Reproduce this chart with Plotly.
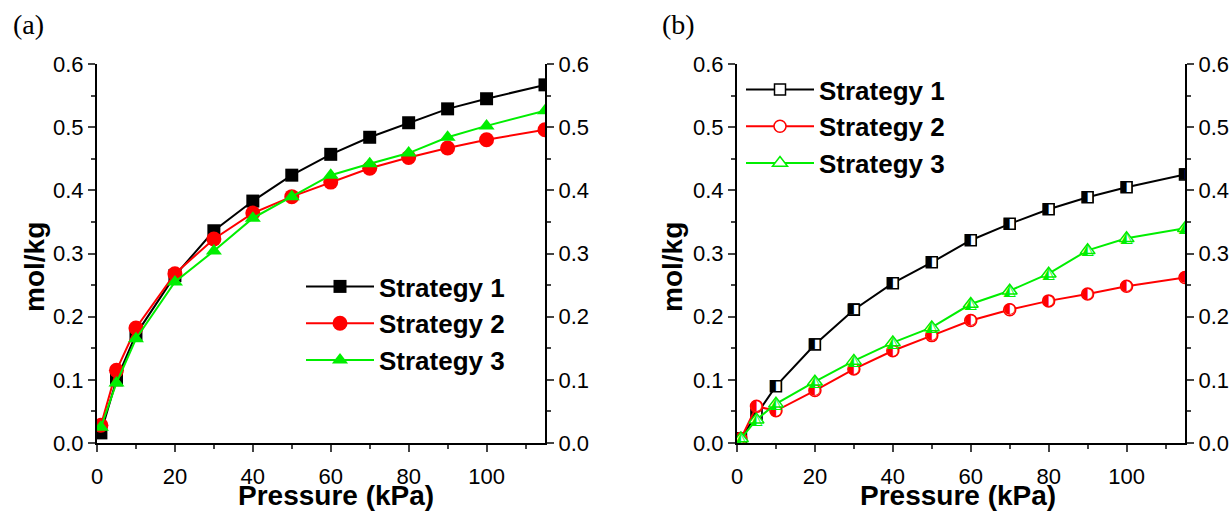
import plotly.graph_objects as go

# ---------------- data ----------------
pressure = [1, 5, 10, 20, 30, 40, 50, 60, 70, 80, 90, 100, 115]

a_s1 = [0.016, 0.100, 0.172, 0.265, 0.336, 0.383, 0.424, 0.457, 0.484, 0.507, 0.529, 0.545, 0.567]
a_s2 = [0.028, 0.115, 0.182, 0.268, 0.323, 0.364, 0.390, 0.413, 0.435, 0.452, 0.467, 0.480, 0.496]
a_s3 = [0.025, 0.095, 0.165, 0.255, 0.304, 0.356, 0.390, 0.424, 0.442, 0.459, 0.484, 0.502, 0.526]

b_s1 = [0.007, 0.045, 0.090, 0.156, 0.211, 0.253, 0.286, 0.321, 0.347, 0.370, 0.389, 0.405, 0.425]
b_s2 = [0.007, 0.058, 0.051, 0.083, 0.117, 0.146, 0.170, 0.194, 0.211, 0.225, 0.236, 0.248, 0.262]
b_s3 = [0.007, 0.037, 0.062, 0.097, 0.130, 0.159, 0.183, 0.220, 0.241, 0.268, 0.305, 0.324, 0.340]

names = ["Strategy 1", "Strategy 2", "Strategy 3"]
colors = ["#000000", "#ff0000", "#00ee00"]
x_ticks = [0, 20, 40, 60, 80, 100]
y_ticks = [0.0, 0.1, 0.2, 0.3, 0.4, 0.5, 0.6]

SANS = "Liberation Sans, Arial, sans-serif"
fig = go.Figure()

# ---------------- panel (a) ----------------
a_symbols = ["square", "circle", "triangle-up"]
a_sizes = [13, 15, 14]
for name, vals, c, sym, sz in zip(names, [a_s1, a_s2, a_s3], colors, a_symbols, a_sizes):
    fig.add_trace(go.Scatter(
        x=pressure, y=vals, mode="lines+markers", name=name,
        line=dict(color=c, width=2),
        marker=dict(symbol=sym, size=sz, color=c, line=dict(width=0)),
        xaxis="x", yaxis="y", legend="legend", legendgroup="a" + name))

# ---------------- panel (b) ----------------
b_symbols = ["square", "circle", "triangle-up"]
b_glyphs = ["\u25E7", "\u25D0", "\u25ED"]
b_sizes = [11, 12, 13]
b_glyph_sizes = [15, 15, 16]
for name, vals, c, sym, sz, g, gs in zip(names, [b_s1, b_s2, b_s3], colors,
                                         b_symbols, b_sizes, b_glyphs, b_glyph_sizes):
    fig.add_trace(go.Scatter(
        x=pressure, y=vals, mode="lines+markers", name=name,
        line=dict(color=c, width=2),
        marker=dict(symbol=sym, size=sz, color="white", line=dict(width=1.5, color=c)),
        xaxis="x2", yaxis="y2", legend="legend2", legendgroup="b" + name))
    fig.add_trace(go.Scatter(
        x=pressure, y=vals, mode="text", text=[g] * len(vals),
        textposition="middle center",
        textfont=dict(family="DejaVu Sans", size=gs, color=c),
        showlegend=False, hoverinfo="skip", xaxis="x2", yaxis="y2"))

# ---------------- axes ----------------
tickfont = dict(family=SANS, size=22, color="black")


def xax(domain, anchor):
    return dict(domain=domain, anchor=anchor, range=[0, 115], automargin=False,
                tickvals=x_ticks, ticks="outside", ticklen=7, tickwidth=2,
                ticklabelstandoff=6,
                showline=True, linewidth=2, linecolor="black",
                showgrid=False, zeroline=False, tickfont=tickfont,
                minor=dict(dtick=10, tick0=0, ticks="outside", ticklen=4, tickwidth=2,
                           showgrid=False))


def yax(anchor, side="left", overlaying=None):
    d = dict(anchor=anchor, range=[0, 0.6], side=side, automargin=False,
             tickvals=y_ticks, tickformat=".1f", ticks="outside", ticklen=7, tickwidth=2,
             showline=True, linewidth=2, linecolor="black",
             showgrid=False, zeroline=False, tickfont=tickfont,
             minor=dict(dtick=0.05, tick0=0, ticks="outside", ticklen=4, tickwidth=2,
                        showgrid=False))
    if overlaying:
        d["overlaying"] = overlaying
    return d


ydom = [74 / 517, 453 / 517]
legfont = dict(family=SANS, size=26, weight="bold", color="black")
fig.update_layout(
    width=1232, height=517,
    margin=dict(l=0, r=0, t=0, b=0, autoexpand=False),
    paper_bgcolor="white", plot_bgcolor="white",
    font=dict(family=SANS, color="black"),
    xaxis=xax([97 / 1232, 545 / 1232], "y"),
    xaxis2=xax([737 / 1232, 1185 / 1232], "y2"),
    yaxis=dict(domain=ydom, **yax("x")),
    yaxis2=dict(domain=ydom, **yax("x2")),
    yaxis3=yax("x", side="right", overlaying="y"),
    yaxis4=yax("x2", side="right", overlaying="y2"),
    legend=dict(x=301 / 1232, y=1 - 263 / 517, xanchor="left", yanchor="top",
                bgcolor="rgba(0,0,0,0)", traceorder="grouped", tracegroupgap=0,
                itemwidth=68, font=legfont),
    legend2=dict(x=741 / 1232, y=1 - 66 / 517, xanchor="left", yanchor="top",
                 bgcolor="rgba(0,0,0,0)", traceorder="grouped", tracegroupgap=0,
                 itemwidth=68, font=legfont),
    showlegend=True,
)

# right-hand axes carry no data of their own
fig.add_trace(go.Scatter(x=[None], y=[None], xaxis="x", yaxis="y3", showlegend=False,
                         hoverinfo="skip"))
fig.add_trace(go.Scatter(x=[None], y=[None], xaxis="x2", yaxis="y4", showlegend=False,
                         hoverinfo="skip"))

title_font = dict(family=SANS, size=28, weight="bold", color="black")
ann = []
for xc, lab in [(34, "mol/kg"), (672, "mol/kg")]:
    ann.append(dict(x=xc / 1232, y=1 - 267 / 517, xref="paper", yref="paper",
                    text=lab, textangle=-90, showarrow=False, font=title_font,
                    xanchor="center", yanchor="middle"))
for xc, lab in [(336, "Pressure (kPa)"), (958, "Pressure (kPa)")]:
    ann.append(dict(x=xc / 1232, y=1 - 495 / 517, xref="paper", yref="paper",
                    text=lab, showarrow=False, font=title_font,
                    xanchor="center", yanchor="middle"))
for xc, lab in [(28, "(a)"), (678, "(b)")]:
    ann.append(dict(x=xc / 1232, y=1 - 24 / 517, xref="paper", yref="paper",
                    text=lab, showarrow=False,
                    font=dict(family="Liberation Serif, Times New Roman, serif", size=28,
                              color="black"),
                    xanchor="center", yanchor="middle"))
fig.update_layout(annotations=ann)

fig.write_html("out.html")
